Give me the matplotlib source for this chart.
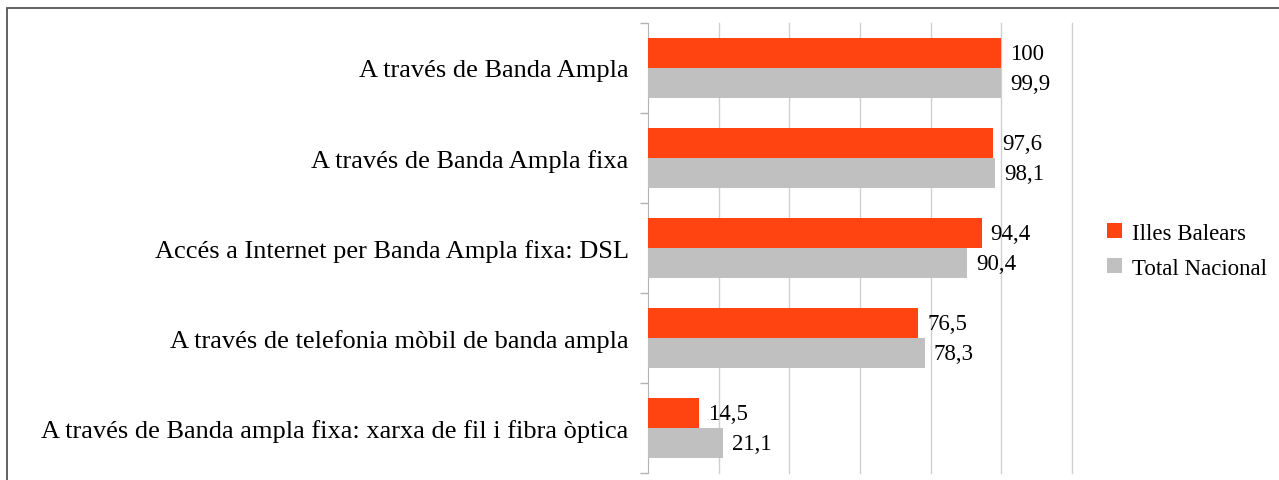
import matplotlib.pyplot as plt
import matplotlib.patches as patches
import numpy as np

plt.rcParams['font.family'] = ['Liberation Serif', 'DejaVu Serif']

categories = ['A través de Banda Ampla',
              'A través de Banda Ampla fixa',
              'Accés a Internet per Banda Ampla fixa: DSL',
              'A través de telefonia mòbil de banda ampla',
              'A través de Banda ampla fixa: xarxa de fil i fibra òptica']
illes_balears = [100, 97.6, 94.4, 76.5, 14.5]
total_nacional = [99.9, 98.1, 90.4, 78.3, 21.1]
series_names = ['Illes Balears', 'Total Nacional']
colors = ['#ff4411', '#c0c0c0']

W, H = 1279, 481
fig = plt.figure(figsize=(W / 100, H / 100), dpi=100)
ax = fig.add_axes([648 / W, 1 - 474 / H, (1072 - 648) / W, (474 - 24) / H])

y = np.arange(len(categories))
h = 1 / 3
b1 = ax.barh(y - h / 2, illes_balears, height=h, color=colors[0], label=series_names[0], zorder=3)
b2 = ax.barh(y + h / 2, total_nacional, height=h, color=colors[1], label=series_names[1], zorder=3)

def fmt(v):
    s = ('%.1f' % v).replace('.', ',')
    return s[:-2] if s.endswith(',0') else s

for bars, vals in [(b1, illes_balears), (b2, total_nacional)]:
    for bar, v in zip(bars, vals):
        ax.text(v + 2.6, bar.get_y() + bar.get_height() / 2, fmt(v),
                va='center', ha='left', fontsize=16.5)

ax.set_xlim(0, 120)
ax.set_ylim(len(categories) - 0.5, -0.5)
ax.set_xticks(np.arange(20, 121, 20))
ax.tick_params(axis='x', length=0, labelbottom=False)
ax.grid(axis='x', color='#d0d0d0', linewidth=1, zorder=0)
for gl in ax.get_xgridlines():
    gl.set_clip_on(False)

ax.set_yticks(y)
ax.set_yticklabels(categories, fontsize=19)
ax.tick_params(axis='y', which='major', length=0, pad=14)
ax.set_yticks(np.arange(-0.5, len(categories), 1), minor=True)
ax.tick_params(axis='y', which='minor', length=6, color='#b3b3b3', width=1)

for s in ['top', 'right', 'bottom']:
    ax.spines[s].set_visible(False)
ax.spines['left'].set_color('#b3b3b3')

fig.legend(handles=[b1, b2], loc='upper left', bbox_to_anchor=(1086 / W, 1 - 203 / H),
           frameon=False, fontsize=16.5, handlelength=0.65, handleheight=0.65,
           handletextpad=0.45, labelspacing=0.62)

fig.patches.append(patches.Rectangle((7 / W, -0.1), 1.2, 1 - 9 / H + 0.1,
                                     transform=fig.transFigure, fill=False,
                                     edgecolor='#555555', linewidth=1.3))

fig.savefig('out.png', dpi=100)
